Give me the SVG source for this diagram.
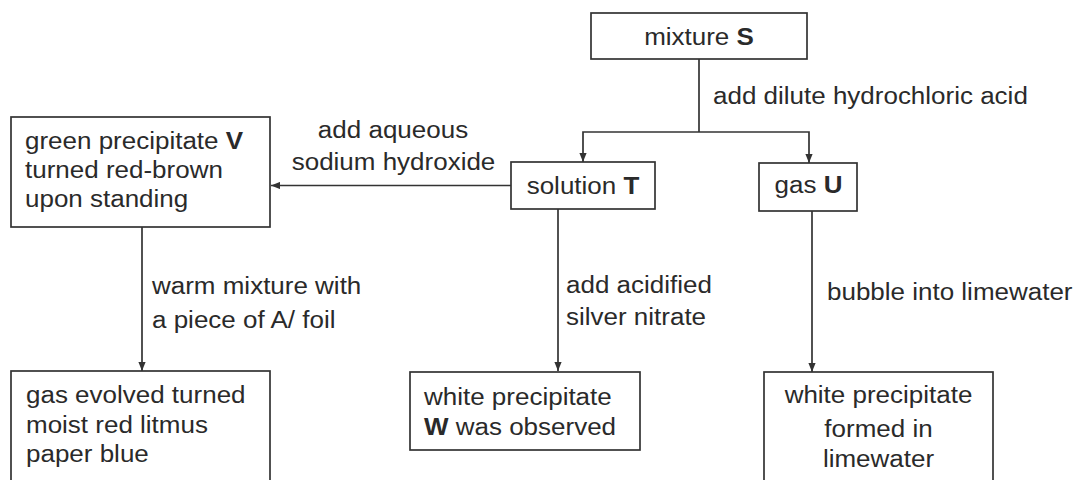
<svg xmlns="http://www.w3.org/2000/svg" width="1078" height="480" viewBox="0 0 1078 480">
<style>
.t{font-family:"Liberation Sans",Arial,Helvetica,sans-serif;font-size:23px;fill:#2a2a2a}
.b{font-weight:bold}
.m{text-anchor:middle}
.box{fill:#fff;stroke:#333;stroke-width:1.7}
.ln{fill:none;stroke:#333;stroke-width:1.7}
</style>
<defs>
<marker id="ah" viewBox="0 0 10 8" refX="10" refY="4" markerWidth="9" markerHeight="7.5" markerUnits="userSpaceOnUse" orient="auto">
<path d="M0,0 L10,4 L0,8 z" fill="#333"/>
</marker>
</defs>
<rect width="1078" height="480" fill="#fff"/>
<g id="connectors">
<path class="ln" d="M699 59 V132"/>
<path class="ln" d="M699 132 H583 V162" marker-end="url(#ah)"/>
<path class="ln" d="M699 132 H809 V163" marker-end="url(#ah)"/>
<path class="ln" d="M511 185.5 H271" marker-end="url(#ah)"/>
<path class="ln" d="M142 227 V371" marker-end="url(#ah)"/>
<path class="ln" d="M558 209 V371" marker-end="url(#ah)"/>
<path class="ln" d="M812 211 V372" marker-end="url(#ah)"/>
<text class="t" transform="translate(713,104) scale(1.13,1)">add dilute hydrochloric acid</text>
<text class="t m" transform="translate(393,138) scale(1.13,1)">add aqueous</text>
<text class="t m" transform="translate(393.5,170) scale(1.13,1)">sodium hydroxide</text>
<text class="t" transform="translate(152,294) scale(1.13,1)">warm mixture with</text>
<text class="t" transform="translate(152,328) scale(1.13,1)">a piece of A/ foil</text>
<text class="t" transform="translate(566,293) scale(1.13,1)">add acidified</text>
<text class="t" transform="translate(566,325) scale(1.13,1)">silver nitrate</text>
<text class="t" transform="translate(827,300) scale(1.13,1)">bubble into limewater</text>
</g>
<g id="n-S">
<rect class="box" x="591" y="13" width="216" height="46"/>
<text class="t m" transform="translate(699,45) scale(1.13,1)">mixture <tspan class="b">S</tspan></text>
</g>
<g id="n-T">
<rect class="box" x="511" y="162" width="144" height="47"/>
<text class="t m" transform="translate(583,194) scale(1.13,1)">solution <tspan class="b">T</tspan></text>
</g>
<g id="n-U">
<rect class="box" x="759" y="163" width="98" height="48"/>
<text class="t m" transform="translate(808.5,193) scale(1.13,1)">gas <tspan class="b">U</tspan></text>
</g>
<g id="n-V">
<rect class="box" x="11" y="117" width="259" height="110"/>
<text class="t" transform="translate(25,149) scale(1.13,1)">green precipitate <tspan class="b">V</tspan></text>
<text class="t" transform="translate(25,178) scale(1.13,1)">turned red-brown</text>
<text class="t" transform="translate(25,207) scale(1.13,1)">upon standing</text>
</g>
<g id="n-gas">
<rect class="box" x="11" y="371" width="259" height="115"/>
<text class="t" transform="translate(26,403) scale(1.13,1)">gas evolved turned</text>
<text class="t" transform="translate(26,433) scale(1.13,1)">moist red litmus</text>
<text class="t" transform="translate(26,462) scale(1.13,1)">paper blue</text>
</g>
<g id="n-W">
<rect class="box" x="410" y="372" width="230" height="78"/>
<text class="t" transform="translate(424,405) scale(1.13,1)">white precipitate</text>
<text class="t" transform="translate(424,435) scale(1.13,1)"><tspan class="b">W</tspan> was observed</text>
</g>
<g id="n-lime">
<rect class="box" x="764" y="372" width="229" height="115"/>
<text class="t m" transform="translate(878.5,403) scale(1.13,1)">white precipitate</text>
<text class="t m" transform="translate(878.5,437) scale(1.13,1)">formed in</text>
<text class="t m" transform="translate(878.5,467) scale(1.13,1)">limewater</text>
</g>
</svg>
